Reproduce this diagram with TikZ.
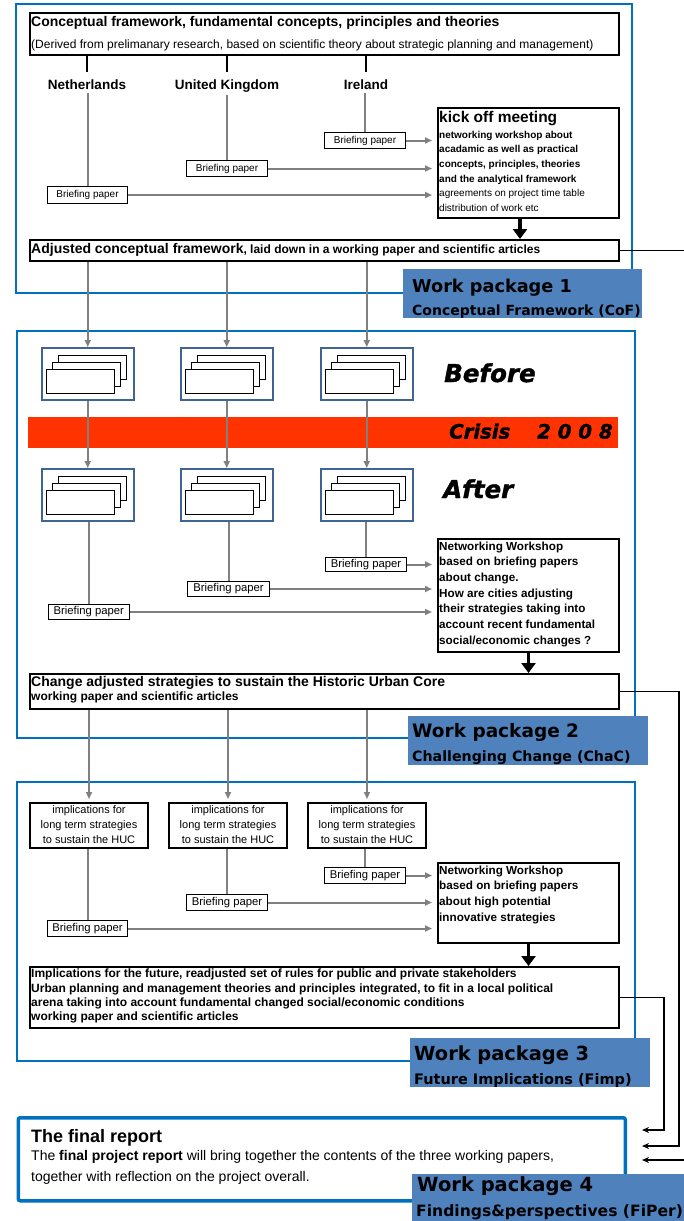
\documentclass[tikz,border=0pt]{standalone}
\usepackage{fontspec}
\setmainfont{Liberation Sans}
\newfontfamily\dvs{DejaVu Sans}[BoldFont={DejaVu Sans Bold},ItalicFont={DejaVu Sans Oblique},BoldItalicFont={DejaVu Sans Bold Oblique}]
\newfontfamily\heavyfont{DejaVu Sans Bold Oblique}[FakeBold=1.5]
\usetikzlibrary{arrows.meta,calc}
\definecolor{frameblue}{RGB}{0,112,192}
\definecolor{wpblue}{RGB}{79,129,189}
\definecolor{docblue}{RGB}{65,100,150}
\definecolor{crisisred}{RGB}{255,51,0}
\definecolor{linegrey}{RGB}{128,128,128}
\newcommand\fsz[1]{\fontsize{#1}{#1}\selectfont}
\newcommand\stackL[2]{\vtop{\baselineskip=#1pt\lineskiplimit=-100pt\lineskip=0pt\halign{##\hfil\cr#2\crcr}}}
\newcommand\stackC[2]{\vtop{\baselineskip=#1pt\lineskiplimit=-100pt\lineskip=0pt\halign{\hfil##\hfil\cr#2\crcr}}}
\newcommand\docsheets[1]{\begin{scope}[shift={(#1.north west)}]
\draw[sheet] (17,8) rectangle ++(68,24);
\draw[sheet] (11,15) rectangle ++(68,24);
\draw[sheet] (5.6,22) rectangle ++(68,24);
\end{scope}}
\begin{document}
\begin{tikzpicture}[x=1pt,y=-1pt,
  frame/.style={draw=frameblue,line width=2pt},
  bbox/.style={draw=black,line width=2pt,fill=white,inner sep=0,anchor=north west},
  bpbox/.style={draw=black,line width=1pt,fill=white,inner sep=0,anchor=north west},
  docbox/.style={draw=docblue,line width=1.5pt,fill=white,inner sep=0,anchor=north west,minimum width=92pt,minimum height=52pt},
  sheet/.style={draw=black,line width=1pt,fill=white},
  wplabel/.style={fill=wpblue,inner sep=0,anchor=north west},
  txt/.style={inner sep=0,anchor=base west},
  ctxt/.style={inner sep=0,anchor=base},
  gline/.style={draw=linegrey,line width=2pt},
  garrow/.style={gline,-{Triangle[length=7pt,width=6pt]}},
  karrow/.style={draw=black,line width=3.5pt,-{Triangle[length=10pt,width=14pt]}},
  conn/.style={draw=black,line width=1.5pt,-{Stealth[length=7pt,width=6pt]},shorten >=15pt},
  bline/.style={draw=black,line width=2pt},
  heavy/.style={inner sep=0,anchor=base west},
]
\useasboundingbox (0,0) rectangle (683,1221);
\fill[white] (0,0) rectangle (683,1221);

% ================= WORK PACKAGE 1 =================
\draw[frame] (16,4) rectangle (632,293);
\node[bbox,minimum width=589pt,minimum height=42pt] (cf) at (29,12) {};
\node[txt,font=\bfseries\fsz{14}] (cft) at (31,26.5) {Conceptual framework, fundamental concepts, principles and theories};
\node[txt,font=\fsz{12}] (cfs) at (31,48.5) {(Derived from prelimanary research, based on scientific theory about strategic planning and management)};

\node[ctxt,font=\bfseries\fsz{13.5}] (nl) at (87,89.3) {Netherlands};
\node[ctxt,font=\bfseries\fsz{13.5}] (uk) at (227,89.3) {United Kingdom};
\node[ctxt,font=\bfseries\fsz{13.5}] (ie) at (366,89.3) {Ireland};
\draw[bline] (cf.south -| nl.base) -- ($(nl.base)+(0,-17)$);
\draw[bline] (cf.south -| uk.base) -- ($(uk.base)+(0,-17)$);
\draw[bline] (cf.south -| ie.base) -- ($(ie.base)+(0,-17)$);

\node[bpbox,minimum width=81pt,minimum height=16pt,font=\fsz{10}] (bp1i) at (324,132) {Briefing paper};
\node[bpbox,minimum width=81pt,minimum height=16pt,font=\fsz{10}] (bp1u) at (186,160) {Briefing paper};
\node[bpbox,minimum width=80pt,minimum height=17pt,font=\fsz{10}] (bp1n) at (47,186) {Briefing paper};
\node[bbox,minimum width=181pt,minimum height=110pt] (ko) at (437,107) {};
\node[txt,font=\bfseries\fsz{15.5}] (kot) at (439,122.7) {kick off meeting};
\node[txt,font=\fsz{10}] (kob) at (439,138.3) {\stackL{14.6}{\bfseries networking workshop about\cr\bfseries acadamic as well as practical\cr\bfseries concepts, principles, theories\cr\bfseries and the analytical framework\cr agreements on project time table\cr distribution of work etc}};

\draw[gline] ($(nl.base -| bp1n.north)+(0,4)$) -- (bp1n.north);
\draw[gline] ($(uk.base -| bp1u.north)+(0,6)$) -- (bp1u.north);
\draw[gline] ($(ie.base -| bp1i.north)+(0,4)$) -- (bp1i.north);
\draw[garrow,shorten >=5pt] (bp1i.east) -- (bp1i.east -| ko.west);
\draw[garrow,shorten >=5pt] (bp1u.east) -- (bp1u.east -| ko.west);
\draw[garrow,shorten >=5pt] (bp1n.east) -- (bp1n.east -| ko.west);

\node[bbox,minimum width=589pt,minimum height=21pt] (adj) at (29,239) {};
\node[txt,font=\bfseries] (adjt) at (31,253.3) {{\fsz{14}Adjusted conceptual framework}{\fsz{12}, laid down in a working paper and scientific articles}};
\draw[karrow] ([xshift=-8.5pt]ko.south) -- ([xshift=-8.5pt]ko.south |- adj.north);

\node[wplabel,minimum width=239pt,minimum height=49pt] (wp1) at (403,269) {};
\node[txt,font=\dvs\bfseries\fsz{17.7}] (wp1a) at (412,292.3) {Work package 1};
\node[txt,font=\dvs\bfseries\fsz{14}] (wp1b) at (412,315) {Conceptual Framework (CoF)};

% ================= WORK PACKAGE 2 =================
\draw[frame] (17,331) rectangle (635,738);
\node[docbox] (d1) at (41,347) {};
\node[docbox] (d2) at (180,347) {};
\node[docbox] (d3) at (320,347) {};
\docsheets{d1}\docsheets{d2}\docsheets{d3}
\node[docbox] (a1) at (41,468) {};
\node[docbox] (a2) at (180,468) {};
\node[docbox] (a3) at (320,468) {};
\docsheets{a1}\docsheets{a2}\docsheets{a3}
\draw[garrow] (adj.south -| d1.north) -- (d1.north);
\draw[garrow] (adj.south -| d2.north) -- (d2.north);
\draw[garrow] (adj.south -| d3.north) -- (d3.north);

\node[heavy,font=\heavyfont\fsz{24.5}] (before) at (444,382) {Before};
\node[fill=crisisred,inner sep=0,anchor=north west,minimum width=590pt,minimum height=31pt] (crisis) at (28,417) {};
\node[heavy,font=\heavyfont\fsz{19.7}] (crisisa) at (449,438.5) {Crisis};
\node[heavy,font=\heavyfont\fsz{19.7}] (crisisb) at (537,438.5) {2 0 0 8};
\node[heavy,font=\heavyfont\fsz{24.5}] (after) at (443,498) {After};
\draw[garrow] (d1.south) -- (a1.north);
\draw[garrow] (d2.south) -- (a2.north);
\draw[garrow] (d3.south) -- (a3.north);

\node[bpbox,minimum width=81.5pt,minimum height=15pt,font=\fsz{11.3}] (bp2n) at (47.5,604) {Briefing paper};
\node[bpbox,minimum width=82pt,minimum height=15pt,font=\fsz{11.3}] (bp2u) at (187,581) {Briefing paper};
\node[bpbox,minimum width=81pt,minimum height=14pt,font=\fsz{11.3}] (bp2i) at (325,557) {Briefing paper};
\draw[gline] (a1.south -| bp2n.north) -- (bp2n.north);
\draw[gline] (a2.south -| bp2u.north) -- (bp2u.north);
\draw[gline] (a3.south -| bp2i.north) -- (bp2i.north);
\node[bbox,minimum width=181pt,minimum height=113pt] (nw2) at (437,538) {};
\node[txt,font=\bfseries\fsz{11.7}] (nw2t) at (439,550) {\stackL{15.7}{Networking Workshop\cr based on briefing papers\cr about change.\cr How are cities adjusting\cr their strategies taking into\cr account recent fundamental\cr social/economic changes ?}};
\draw[garrow,shorten >=5pt] (bp2i.east) -- (bp2i.east -| nw2.west);
\draw[garrow,shorten >=5pt] (bp2u.east) -- (bp2u.east -| nw2.west);
\draw[garrow,shorten >=5pt] (bp2n.east) -- (bp2n.east -| nw2.west);

\node[bbox,minimum width=589pt,minimum height=35pt] (ch) at (29,673) {};
\node[txt,font=\bfseries\fsz{14}] (cht) at (31,686.7) {Change adjusted strategies to sustain the Historic Urban Core};
\node[txt,font=\bfseries\fsz{12}] (chs) at (31,700) {working paper and scientific articles};
\draw[karrow] (nw2.south) -- (nw2.south |- ch.north);

\node[wplabel,minimum width=240pt,minimum height=49pt] (wp2) at (408,716) {};
\node[txt,font=\dvs\bfseries\fsz{18.5}] (wp2a) at (412,737.3) {Work package 2};
\node[txt,font=\dvs\bfseries\fsz{14.2}] (wp2b) at (412,761) {Challenging Change (ChaC)};

% ================= WORK PACKAGE 3 =================
\draw[frame] (17,782) rectangle (635,1061);
\node[bbox,minimum width=118pt,minimum height=45pt] (i1) at (29,802) {};
\node[bbox,minimum width=118pt,minimum height=45pt] (i2) at (168,802) {};
\node[bbox,minimum width=118pt,minimum height=45pt] (i3) at (307,802) {};
\node[ctxt,font=\fsz{11}] (i1t) at (i1.north |- 0,813.3) {\stackC{15}{implications for\cr long term strategies\cr to sustain the HUC}};
\node[ctxt,font=\fsz{11}] (i2t) at (i2.north |- 0,813.3) {\stackC{15}{implications for\cr long term strategies\cr to sustain the HUC}};
\node[ctxt,font=\fsz{11}] (i3t) at (i3.north |- 0,813.3) {\stackC{15}{implications for\cr long term strategies\cr to sustain the HUC}};
\draw[garrow,shorten >=3pt] (ch.south -| i1.north) -- (i1.north);
\draw[garrow,shorten >=3pt] (ch.south -| i2.north) -- (i2.north);
\draw[garrow,shorten >=3pt] (ch.south -| i3.north) -- (i3.north);

\node[bpbox,minimum width=81pt,minimum height=16pt,font=\fsz{11.3}] (bp3i) at (324,867) {Briefing paper};
\node[bpbox,minimum width=81pt,minimum height=16pt,font=\fsz{11.3}] (bp3u) at (186,894) {Briefing paper};
\node[bpbox,minimum width=80pt,minimum height=16pt,font=\fsz{11.3}] (bp3n) at (47,920) {Briefing paper};
\draw[gline] (i1.south -| bp3n.north) -- (bp3n.north);
\draw[gline] (i2.south -| bp3u.north) -- (bp3u.north);
\draw[gline] (i3.south -| bp3i.north) -- (bp3i.north);
\node[bbox,minimum width=181pt,minimum height=80pt] (nw3) at (437,862) {};
\node[txt,font=\bfseries\fsz{11.7}] (nw3t) at (439,874) {\stackL{15.9}{Networking Workshop\cr based on briefing papers\cr about high potential\cr innovative strategies}};
\draw[garrow,shorten >=5pt] (bp3i.east) -- (bp3i.east -| nw3.west);
\draw[garrow,shorten >=5pt] (bp3u.east) -- (bp3u.east -| nw3.west);
\draw[garrow,shorten >=5pt] (bp3n.east) -- (bp3n.east -| nw3.west);

\node[bbox,minimum width=589pt,minimum height=61pt] (imp) at (29,966) {};
\node[txt,font=\bfseries\fsz{12}] (impt) at (31,977.7) {\stackL{14.4}{Implications for the future, readjusted set of rules for public and private stakeholders\cr Urban planning and management theories and principles integrated, to fit in a local political\cr arena taking into account fundamental changed social/economic conditions\cr working paper and scientific articles}};
\draw[karrow] (nw3.south) -- (nw3.south |- imp.north);

\node[wplabel,minimum width=240pt,minimum height=49pt] (wp3) at (410,1038) {};
\node[txt,font=\dvs\bfseries\fsz{19.4}] (wp3a) at (414,1060) {Work package 3};
\node[txt,font=\dvs\bfseries\fsz{14.5}] (wp3b) at (414,1084) {Future Implications (Fimp)};

% ================= WORK PACKAGE 4 =================
\node[draw=frameblue,line width=3.5pt,rounded corners=2pt,fill=white,inner sep=0,anchor=north west,minimum width=607pt,minimum height=83pt] (fr) at (16.5,1116) {};
\node[txt,font=\bfseries\fsz{18}] (frt) at (31,1142.7) {The final report};
\node[txt,font=\fsz{14}] (frb) at (31,1160.5) {\stackL{20.5}{The \textbf{final project report} will bring together the contents of the three working papers,\cr together with reflection on the project overall.}};
\node[wplabel,minimum width=280pt,minimum height=55pt] (wp4) at (411.5,1174) {};
\node[txt,font=\dvs\bfseries\fsz{19.5}] (wp4a) at (417,1191.7) {Work package 4};
\node[txt,font=\dvs\bfseries\fsz{15.6}] (wp4b) at (416,1216.7) {Findings\&perspectives (FiPer)};

% ================= connectors to final report =================
\coordinate (r1) at (690,1160);
\coordinate (r2) at (679,1146);
\coordinate (r3) at (664,1130);
\draw[conn] (adj.east) -| (r1) -- (r1 -| fr.east);
\draw[conn] (ch.east) -| (r2) -- (r2 -| fr.east);
\draw[conn] (imp.east) -| (r3) -- (r3 -| fr.east);
\end{tikzpicture}
\end{document}
